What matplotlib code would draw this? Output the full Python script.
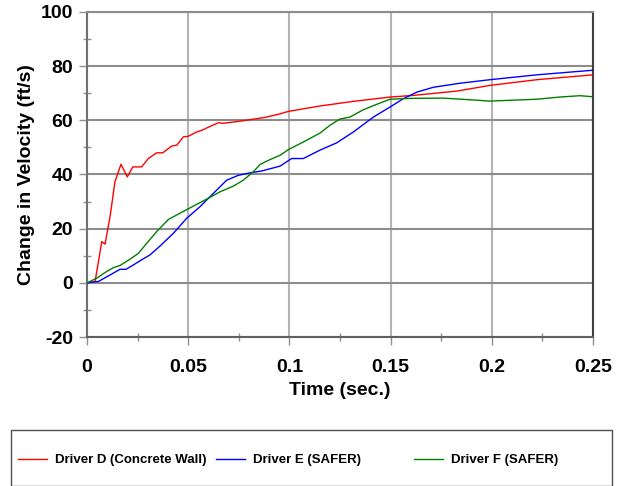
import matplotlib
matplotlib.use("Agg")
import matplotlib.pyplot as plt
from matplotlib.patches import Rectangle
from matplotlib.ticker import MultipleLocator

plt.rcParams['font.family'] = ['Liberation Sans', 'DejaVu Sans']
plt.rcParams['font.weight'] = 'bold'
plt.rcParams['axes.unicode_minus'] = False

# Driver D (Concrete Wall)
t_d = [0, 0.004, 0.0073, 0.0089, 0.0114, 0.0138, 0.0168, 0.0199, 0.0226, 0.027, 0.0303,
       0.0344, 0.0374, 0.0418, 0.0443, 0.0476, 0.050, 0.0542, 0.0567, 0.060, 0.0649, 0.0674,
       0.0756, 0.0838, 0.0887, 0.0954, 0.0995, 0.1151, 0.1316, 0.1497, 0.1612, 0.1827,
       0.1991, 0.2222, 0.25]
v_d = [0, 0.5, 15.2, 14.3, 24.4, 37.3, 43.8, 39.1, 42.8, 42.8, 45.9,
       48.0, 48.0, 50.5, 50.8, 53.9, 54.1, 55.7, 56.3, 57.5, 59.1, 58.9,
       59.7, 60.6, 61.2, 62.4, 63.3, 65.3, 67.0, 68.6, 69.2, 70.8,
       72.9, 75.0, 76.8]

# Driver E (SAFER)
t_e = [0, 0.0056, 0.0114, 0.0163, 0.0193, 0.0229, 0.027, 0.0311, 0.0361, 0.0427, 0.0492,
       0.0558, 0.0624, 0.069, 0.0748, 0.0805, 0.0863, 0.0954, 0.1011, 0.1069, 0.1151,
       0.1234, 0.1316, 0.1415, 0.1497, 0.1563, 0.1629, 0.1711, 0.1843, 0.1991, 0.2222, 0.25]
v_e = [0, 0.5, 2.9, 5.0, 5.0, 6.6, 8.5, 10.3, 13.6, 18.3, 23.8,
       28.1, 33.0, 37.9, 39.7, 40.6, 41.3, 43.1, 45.9, 45.9, 49.0,
       51.7, 55.7, 61.2, 64.9, 68.0, 70.4, 72.2, 73.7, 75.0, 76.8, 78.5]

# Driver F (SAFER)
t_f = [0, 0.0048, 0.0089, 0.013, 0.0163, 0.0212, 0.0254, 0.0295, 0.0344, 0.0402, 0.0459,
       0.0525, 0.0591, 0.0657, 0.0723, 0.0772, 0.0822, 0.0855, 0.0904, 0.0954, 0.0995,
       0.1069, 0.1151, 0.1201, 0.125, 0.1299, 0.1365, 0.1431, 0.1497, 0.1596, 0.176,
       0.1892, 0.1991, 0.209, 0.2222, 0.2337, 0.2436, 0.25]
v_f = [0, 1.7, 3.8, 5.6, 6.4, 8.7, 10.9, 14.6, 18.9, 23.4, 25.7,
       28.3, 30.9, 33.6, 35.7, 37.9, 41.0, 43.7, 45.5, 47.1, 49.2,
       52.0, 55.3, 58.2, 60.5, 61.2, 63.9, 65.9, 67.8, 68.1, 68.2,
       67.6, 67.1, 67.4, 67.8, 68.6, 69.1, 68.7]

labels = ['Driver D (Concrete Wall)', 'Driver E (SAFER)', 'Driver F (SAFER)']
colors = ['#ff0000', '#0000ff', '#008000']
x_ticks = [0, 0.05, 0.1, 0.15, 0.2, 0.25]
x_ticklabels = ['0', '0.05', '0.1', '0.15', '0.2', '0.25']
y_ticks = [-20, 0, 20, 40, 60, 80, 100]

W, H = 625, 486
fig = plt.figure(figsize=(W / 100, H / 100), dpi=100)
ax = fig.add_axes([87 / W, 1 - 337 / H, (593 - 87) / W, (337 - 12) / H])

lines = []
for t, v, c, lab in zip([t_d, t_e, t_f], [v_d, v_e, v_f], colors, labels):
    ln, = ax.plot(t, v, color=c, lw=1.0, label=lab, zorder=3)
    lines.append(ln)

ax.set_xlim(0, 0.25)
ax.set_ylim(-20, 100)
ax.set_xticks(x_ticks)
ax.set_xticklabels(x_ticklabels)
ax.set_yticks(y_ticks)
ax.xaxis.set_minor_locator(MultipleLocator(0.025))
ax.yaxis.set_minor_locator(MultipleLocator(10))

ax.grid(True, which='major', axis='y', color='#8c8c8c', lw=1.5, zorder=1)
ax.grid(True, which='major', axis='x', color='#b4b4b4', lw=1.5, zorder=1)

ax.tick_params(axis='both', which='major', direction='out', length=6, width=1,
               color='#909090', labelsize=14)
ax.tick_params(axis='x', which='major', pad=10)
ax.tick_params(axis='y', which='major', pad=4)
ax.tick_params(axis='both', which='minor', direction='inout', length=6, width=1,
               color='#909090')
for lab in ax.get_xticklabels() + ax.get_yticklabels():
    lab.set_fontweight('bold')

ax.spines['left'].set_color('#707070')
ax.spines['left'].set_linewidth(1.5)
ax.spines['bottom'].set_color('#606060')
ax.spines['bottom'].set_linewidth(1.5)
ax.spines['right'].set_color('#404040')
ax.spines['right'].set_linewidth(1.5)
ax.spines['top'].set_color('#8c8c8c')
ax.spines['top'].set_linewidth(1.5)

ax.set_xlabel('Time (sec.)', fontsize=14, fontweight='bold', labelpad=4)
ax.set_ylabel('Change in Velocity (ft/s)', fontsize=14, fontweight='bold', labelpad=4)

# Legend box
fig.patches.append(Rectangle((11 / W, 0), (612 - 11) / W, (H - 430) / H,
                             transform=fig.transFigure, fill=False,
                             edgecolor='#505050', lw=1.0))
starts = [18, 216, 414]
for ln, x0 in zip(lines, starts):
    fig.legend(handles=[ln], loc='center left', bbox_to_anchor=(x0 / W, 1 - 460 / H),
               frameon=False, borderpad=0, borderaxespad=0, handlelength=2.2,
               handletextpad=0.6, prop={'size': 9.5, 'weight': 'bold'})

fig.savefig('out.png', dpi=100)
